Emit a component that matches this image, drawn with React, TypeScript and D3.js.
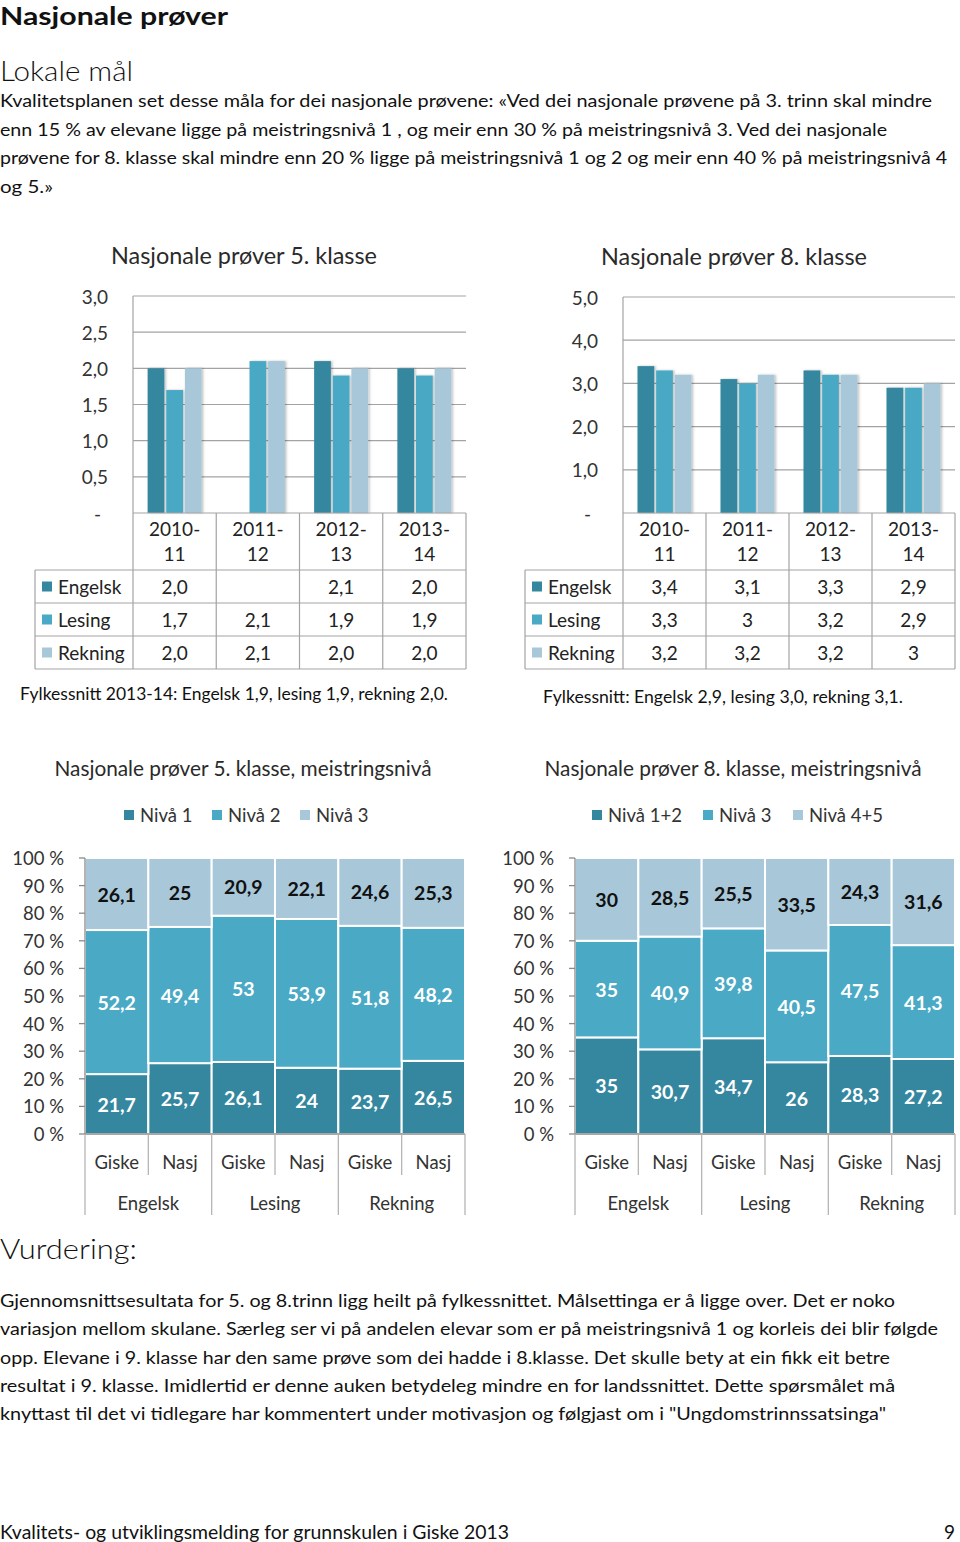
import React from "react";
import * as d3 from "d3";

// ---------- data ----------
const years = ["2010-11", "2011-12", "2012-13", "2013-14"];
const subjects = ["Engelsk", "Lesing", "Rekning"];
const engelsk5: (number | null)[] = [2.0, null, 2.1, 2.0];
const lesing5: (number | null)[] = [1.7, 2.1, 1.9, 1.9];
const rekning5: (number | null)[] = [2.0, 2.1, 2.0, 2.0];
const engelsk8: (number | null)[] = [3.4, 3.1, 3.3, 2.9];
const lesing8: (number | null)[] = [3.3, 3.0, 3.2, 2.9];
const rekning8: (number | null)[] = [3.2, 3.2, 3.2, 3.0];
const ticks5 = [0, 0.5, 1, 1.5, 2, 2.5, 3];
const ticks8 = [0, 1, 2, 3, 4, 5];

const groups = ["Engelsk", "Lesing", "Rekning"];
const places = ["Giske", "Nasj"];
const levels5 = ["Nivå 1", "Nivå 2", "Nivå 3"];
const niva1_5 = [21.7, 25.7, 26.1, 24, 23.7, 26.5];
const niva2_5 = [52.2, 49.4, 53, 53.9, 51.8, 48.2];
const niva3_5 = [26.1, 25, 20.9, 22.1, 24.6, 25.3];
const levels8 = ["Nivå 1+2", "Nivå 3", "Nivå 4+5"];
const niva12_8 = [35, 30.7, 34.7, 26, 28.3, 27.2];
const niva3_8 = [35, 40.9, 39.8, 40.5, 47.5, 41.3];
const niva45_8 = [30, 28.5, 25.5, 33.5, 24.3, 31.6];
const pctTicks = [0, 10, 20, 30, 40, 50, 60, 70, 80, 90, 100];

const introLines = [
  "Kvalitetsplanen set desse måla for dei nasjonale prøvene: «Ved dei nasjonale prøvene på 3. trinn skal mindre",
  "enn 15 % av elevane ligge på meistringsnivå 1 , og meir enn 30 % på meistringsnivå 3. Ved dei nasjonale",
  "prøvene for 8. klasse skal mindre enn 20 % ligge på meistringsnivå 1 og 2 og meir enn 40 % på meistringsnivå 4",
  "og 5.»",
];
const vurderingLines = [
  "Gjennomsnittsesultata for 5. og 8.trinn ligg heilt på fylkessnittet. Målsettinga er å ligge over. Det er noko",
  "variasjon mellom skulane. Særleg ser vi på andelen elevar som er på meistringsnivå 1 og korleis dei blir følgde",
  "opp. Elevane i 9. klasse har den same prøve som dei hadde i 8.klasse. Det skulle bety at ein fikk eit betre",
  "resultat i 9. klasse. Imidlertid er denne auken betydeleg mindre en for landssnittet. Dette spørsmålet må",
  "knyttast til det vi tidlegare har kommentert under motivasjon og følgjast om i \"Ungdomstrinnssatsinga\"",
];

// ---------- style ----------
const FONT = "Lato, 'Open Sans', 'Noto Sans', sans-serif";
const COLORS = ["#35879f", "#4aa9c4", "#a8c8da"];
const GRID = "#a3a3a3";
const TEXT = "#222";

const fmt1 = (v: number) => v.toFixed(1).replace(".", ",");
const fmtRaw = (v: number) => String(v).replace(".", ",");

type GroupedProps = {
  x0: number; x1: number; yTop: number; y0: number; max: number; ticks: number[];
  tableLeft: number; title: string; titleX: number; titleY: number; titleW: number;
  series: (number | null)[][]; fmt: (v: number) => string; tickFmt: (v: number) => string;
};

function GroupedChart(p: GroupedProps) {
  const y = d3.scaleLinear().domain([0, p.max]).range([p.y0, p.yTop]);
  const x = d3.scaleBand<string>().domain(years).range([p.x0, p.x1]);
  const gw = 54;
  const inner = d3.scaleBand<string>().domain(subjects).range([0, gw]).paddingInner(0.1);
  const rowH = 33;
  const headerB = p.y0 + 57;
  const rowTops = [headerB, headerB + rowH, headerB + 2 * rowH];
  const tableBottom = headerB + 3 * rowH;
  return (
    <g>
      <text x={p.titleX} y={p.titleY} textAnchor="middle" dominantBaseline="central" fontSize={23} fill="#2a2a2a" fontFamily={FONT} textLength={p.titleW} lengthAdjust="spacingAndGlyphs">{p.title}</text>
      {p.ticks.map((t) => (
        <g key={t}>
          {t > 0 && <line x1={p.x0} x2={p.x1} y1={y(t)} y2={y(t)} stroke={GRID} strokeWidth={1.2} />}
          <text x={t === 0 ? p.x0 - 32 : p.x0 - 25} y={y(t)} textAnchor="end" dominantBaseline="central" fontSize={19} fill="#333" fontFamily={FONT}>{p.tickFmt(t)}</text>
        </g>
      ))}
      {years.map((yr, i) =>
        subjects.map((s, j) => {
          const v = p.series[j][i];
          if (v == null) return null;
          const bx = (x(yr) as number) + (x.bandwidth() - gw) / 2 + (inner(s) as number);
          return (
            <rect key={yr + s} x={bx} y={y(v)} width={inner.bandwidth()} height={p.y0 - y(v)} fill={COLORS[j]} filter="url(#shadow)" />
          );
        })
      )}
      <line x1={p.x0} x2={p.x0} y1={p.yTop} y2={tableBottom} stroke={GRID} strokeWidth={1.2} />
      {/* table */}
      <line x1={p.x0} x2={p.x1} y1={p.y0} y2={p.y0} stroke={GRID} strokeWidth={1.2} />
      {[...rowTops, tableBottom].map((ry, k) => (
        <line key={k} x1={p.tableLeft} x2={p.x1} y1={ry} y2={ry} stroke={GRID} strokeWidth={1.2} />
      ))}
      <line x1={p.tableLeft} x2={p.tableLeft} y1={headerB} y2={tableBottom} stroke={GRID} strokeWidth={1.2} />
      {years.map((yr) => (
        <line key={yr} x1={(x(yr) as number) + x.bandwidth()} x2={(x(yr) as number) + x.bandwidth()} y1={p.y0} y2={tableBottom} stroke={GRID} strokeWidth={1.2} />
      ))}
      {years.map((yr) => {
        const [a, b] = yr.split("-");
        const cx = (x(yr) as number) + x.bandwidth() / 2;
        return (
          <g key={yr} fontFamily={FONT} fontSize={19} fill={TEXT}>
            <text x={cx} y={p.y0 + 15} textAnchor="middle" dominantBaseline="central">{a + "-"}</text>
            <text x={cx} y={p.y0 + 40} textAnchor="middle" dominantBaseline="central">{b}</text>
          </g>
        );
      })}
      {subjects.map((s, j) => (
        <g key={s} fontFamily={FONT} fontSize={19} fill={TEXT}>
          <rect x={p.tableLeft + 7} y={rowTops[j] + rowH / 2 - 5} width={10} height={10} fill={COLORS[j]} />
          <text x={p.tableLeft + 23} y={rowTops[j] + rowH / 2} dominantBaseline="central">{s}</text>
          {years.map((yr, i) => {
            const v = p.series[j][i];
            if (v == null) return null;
            return (
              <text key={yr} x={(x(yr) as number) + x.bandwidth() / 2} y={rowTops[j] + rowH / 2} textAnchor="middle" dominantBaseline="central">{p.fmt(v)}</text>
            );
          })}
        </g>
      ))}
    </g>
  );
}

type StackedProps = {
  x0: number; x1: number; yTop: number; y0: number; title: string; titleX: number; titleY: number;
  levels: string[]; legendXs: number[]; legendY: number; series: number[][];
};

function StackedChart(p: StackedProps) {
  const cats = groups.flatMap((g) => places.map((pl) => g + "|" + pl));
  const rows = cats.map((c, i) => {
    const o: any = { cat: c };
    p.levels.forEach((l, k) => (o[l] = p.series[k][i]));
    return o;
  });
  const stacked = d3.stack<any>().keys(p.levels).offset(d3.stackOffsetExpand)(rows);
  const x = d3.scaleBand<string>().domain(cats).range([p.x0, p.x1]);
  const y = d3.scaleLinear().domain([0, 1]).range([p.y0, p.yTop]);
  const yp = d3.scaleLinear().domain([0, 100]).range([p.y0, p.yTop]);
  const bw = x.bandwidth();
  return (
    <g fontFamily={FONT}>
      <text x={p.titleX} y={p.titleY} textAnchor="middle" dominantBaseline="central" fontSize={20.5} fill="#2a2a2a" textLength={377} lengthAdjust="spacingAndGlyphs">{p.title}</text>
      {p.levels.map((l, k) => (
        <g key={l}>
          <rect x={p.legendXs[k]} y={p.legendY - 5} width={10} height={10} fill={COLORS[k]} />
          <text x={p.legendXs[k] + 16} y={p.legendY} dominantBaseline="central" fontSize={18.5} fill="#333">{l}</text>
        </g>
      ))}
      {stacked.map((layer, k) =>
        layer.map((d, i) => (
          <rect key={k + "-" + i} x={x(cats[i]) as number} y={y(d[1])} width={bw} height={y(d[0]) - y(d[1])} fill={COLORS[k]} stroke="#fff" strokeWidth={2} />
        ))
      )}
      {stacked.map((layer, k) =>
        layer.map((d, i) => (
          <text key={"t" + k + "-" + i} x={(x(cats[i]) as number) + bw / 2} y={(y(d[0]) + y(d[1])) / 2} textAnchor="middle" dominantBaseline="central" fontSize={19.5} fontWeight={700} fill={k < 2 ? "#fff" : "#111"}>
            {fmtRaw(p.series[k][i])}
          </text>
        ))
      )}
      <line x1={p.x0} x2={p.x0} y1={p.yTop} y2={p.y0} stroke="#8a8a8a" strokeWidth={1.3} />
      {pctTicks.map((t) => (
        <g key={t}>
          <line x1={p.x0 - 6} x2={p.x0} y1={yp(t)} y2={yp(t)} stroke="#8a8a8a" strokeWidth={1.3} />
          <text x={p.x0 - 21} y={yp(t)} textAnchor="end" dominantBaseline="central" fontSize={18.5} fill="#333">{t + " %"}</text>
        </g>
      ))}
      <line x1={p.x0} x2={p.x1} y1={p.y0} y2={p.y0} stroke="#8a8a8a" strokeWidth={1.3} />
      {cats.map((c, i) => {
        const left = x(c) as number;
        const major = i % 2 === 0;
        return (
          <g key={c}>
            <line x1={left} x2={left} y1={p.y0} y2={major ? p.y0 + 81 : p.y0 + 41} stroke="#b5b5b5" strokeWidth={1.3} />
            <text x={left + bw / 2} y={p.y0 + 28} textAnchor="middle" dominantBaseline="central" fontSize={18.5} fill="#333">{c.split("|")[1]}</text>
          </g>
        );
      })}
      <line x1={p.x1} x2={p.x1} y1={p.y0} y2={p.y0 + 81} stroke="#b5b5b5" strokeWidth={1.3} />
      {groups.map((g) => (
        <text key={g} x={(x(g + "|Giske") as number) + bw} y={p.y0 + 69} textAnchor="middle" dominantBaseline="central" fontSize={18.5} fill="#333">{g}</text>
      ))}
    </g>
  );
}

export default function App() {
  const introWidths = [932, 887, 947, 53];
  const vurdWidths = [895, 938, 890, 895, 886];
  return (
    <svg width={960} height={1542} style={{ position: "absolute", left: 0, top: 0, display: "block", background: "#fff" }} fontFamily={FONT}>
      <defs>
        <filter id="shadow" x="-20%" y="-5%" width="150%" height="110%">
          <feDropShadow dx={1.5} dy={0} stdDeviation={1.2} floodColor="#000" floodOpacity={0.25} />
        </filter>
      </defs>
      <rect width={960} height={1542} fill="#fff" />
      <text x={0} y={15} dominantBaseline="central" fontSize={24} fontWeight={700} fill="#111" textLength={228} lengthAdjust="spacingAndGlyphs">Nasjonale prøver</text>
      <text x={0} y={70} dominantBaseline="central" fontSize={27} fontWeight={300} fill="#111" textLength={133} lengthAdjust="spacingAndGlyphs">Lokale mål</text>
      {introLines.map((l, i) => (
        <text key={i} x={0} y={100 + i * 28.5} dominantBaseline="central" fontSize={18} fill="#111" textLength={introWidths[i]} lengthAdjust="spacingAndGlyphs">{l}</text>
      ))}

      <GroupedChart x0={133} x1={466} yTop={296} y0={513} max={3} ticks={ticks5} tableLeft={35}
        title="Nasjonale prøver 5. klasse" titleX={244} titleY={255} titleW={266}
        series={[engelsk5, lesing5, rekning5]} fmt={fmt1} tickFmt={(t) => (t === 0 ? "-" : fmt1(t))} />
      <GroupedChart x0={623} x1={955} yTop={297} y0={513} max={5} ticks={ticks8} tableLeft={525}
        title="Nasjonale prøver 8. klasse" titleX={734} titleY={256} titleW={266}
        series={[engelsk8, lesing8, rekning8]} fmt={fmtRaw} tickFmt={(t) => (t === 0 ? "-" : fmt1(t))} />

      <text x={20} y={693} dominantBaseline="central" fontSize={17.5} fill="#111" textLength={428} lengthAdjust="spacingAndGlyphs">Fylkessnitt 2013-14: Engelsk 1,9, lesing 1,9, rekning 2,0.</text>
      <text x={543} y={696} dominantBaseline="central" fontSize={17.5} fill="#111" textLength={360} lengthAdjust="spacingAndGlyphs">Fylkessnitt: Engelsk 2,9, lesing 3,0, rekning 3,1.</text>

      <StackedChart x0={85} x1={465} yTop={858} y0={1134} title="Nasjonale prøver 5. klasse, meistringsnivå" titleX={243} titleY={768}
        levels={levels5} legendXs={[124, 212, 300]} legendY={815} series={[niva1_5, niva2_5, niva3_5]} />
      <StackedChart x0={575} x1={955} yTop={858} y0={1134} title="Nasjonale prøver 8. klasse, meistringsnivå" titleX={733} titleY={768}
        levels={levels8} legendXs={[592, 703, 793]} legendY={815} series={[niva12_8, niva3_8, niva45_8]} />

      <text x={0} y={1248} dominantBaseline="central" fontSize={28} fontWeight={300} fill="#111" textLength={137} lengthAdjust="spacingAndGlyphs">Vurdering:</text>
      {vurderingLines.map((l, i) => (
        <text key={i} x={0} y={1300 + i * 28.3} dominantBaseline="central" fontSize={18} fill="#111" textLength={vurdWidths[i]} lengthAdjust="spacingAndGlyphs">{l}</text>
      ))}
      <text x={0} y={1531} dominantBaseline="central" fontSize={19} fill="#111" textLength={509} lengthAdjust="spacingAndGlyphs">Kvalitets- og utviklingsmelding for grunnskulen i Giske 2013</text>
      <text x={955} y={1531} textAnchor="end" dominantBaseline="central" fontSize={19} fill="#111">9</text>
    </svg>
  );
}
